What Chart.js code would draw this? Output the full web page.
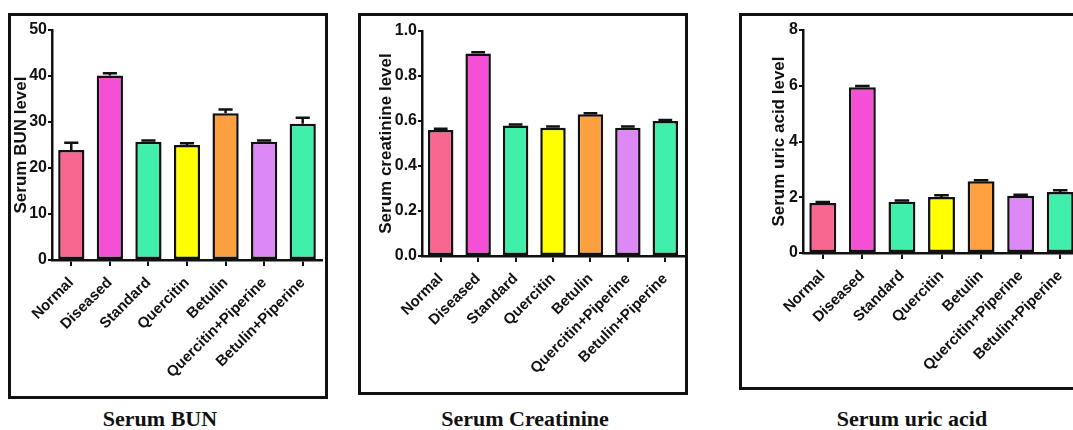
<!DOCTYPE html>
<html>
<head>
<meta charset="utf-8">
<script src="https://cdn.jsdelivr.net/npm/chart.js@4.4.0/dist/chart.umd.min.js"></script>
<style>
html, body { margin: 0; padding: 0; background: #fff; width: 1073px; height: 430px; overflow: hidden; }
.box { position: absolute; border: 3px solid #111; box-sizing: border-box; }
canvas { position: absolute; top: 0; }
.cap { position: absolute; top: 406px; font: bold 22px "Liberation Serif", "Times New Roman", serif; color: #111; white-space: nowrap; transform: translateX(-50%); }
</style>
</head>
<body>
<div class="box" style="left:8px;top:13px;width:320px;height:386px"></div>
<div class="box" style="left:358px;top:13px;width:330px;height:382px"></div>
<div class="box" style="left:739px;top:13px;width:360px;height:377px"></div>

<canvas id="bun" width="330" height="400" style="left:0px"></canvas>
<canvas id="creat" width="335" height="400" style="left:355px"></canvas>
<canvas id="uric" width="350" height="400" style="left:735px"></canvas>

<div class="cap" style="left:160px">Serum BUN</div>
<div class="cap" style="left:525px">Serum Creatinine</div>
<div class="cap" style="left:912px">Serum uric acid</div>

<script>
const groups = ["Normal", "Diseased", "Standard", "Quercitin", "Betulin", "Quercitin+Piperine", "Betulin+Piperine"];
const barColors = ["#f7668f", "#f54fd6", "#40efaa", "#ffff00", "#ffa040", "#dc88f5", "#40efaa"];

const bunMeans = [23.9, 40.1, 25.7, 25.0, 31.9, 25.7, 29.6];
const bunSem = [1.6, 0.5, 0.3, 0.4, 0.8, 0.3, 1.3];
const bunTicks = [0, 10, 20, 30, 40, 50];

const creatMeans = [0.56, 0.90, 0.58, 0.57, 0.63, 0.57, 0.60];
const creatSem = [0.006, 0.006, 0.004, 0.006, 0.004, 0.006, 0.004];
const creatTicks = [0, 0.2, 0.4, 0.6, 0.8, 1.0];

const uricMeans = [1.79, 5.95, 1.84, 2.01, 2.57, 2.05, 2.19];
const uricSem = [0.04, 0.04, 0.04, 0.06, 0.04, 0.04, 0.06];
const uricTicks = [0, 2, 4, 6, 8];

// SEM bars (upper half only), drawn on top of the bars
const errorBars = {
    id: "errorBars",
    afterDatasetsDraw(chart, args, opts) {
        const ctx = chart.ctx;
        const y = chart.scales.y;
        const meta = chart.getDatasetMeta(0);
        ctx.save();
        ctx.strokeStyle = "#111";
        ctx.lineWidth = 2.5;
        meta.data.forEach((bar, i) => {
            const base = y.getPixelForValue(opts.means[i]);
            const top = y.getPixelForValue(opts.means[i] + opts.sem[i]);
            const half = bar.width * 0.27;
            ctx.beginPath();
            ctx.moveTo(bar.x, base);
            ctx.lineTo(bar.x, top);
            ctx.moveTo(bar.x - half, top);
            ctx.lineTo(bar.x + half, top);
            ctx.stroke();
        });
        ctx.restore();
    }
};

function makeChart(id, means, sem, ticks, decimals, yTitle, area) {
    const canvas = document.getElementById(id);
    const W = canvas.width, H = canvas.height;
    return new Chart(canvas.getContext("2d"), {
        type: "bar",
        data: {
            labels: groups,
            datasets: [{
                data: means,
                backgroundColor: barColors,
                borderColor: "#111",
                borderWidth: 2.5,
                borderSkipped: false,
                barPercentage: 0.68,
                categoryPercentage: 1
            }]
        },
        plugins: [errorBars],
        options: {
            responsive: false,
            animation: false,
            devicePixelRatio: 1,
            layout: { padding: { top: area.top, right: W - area.right, left: 0, bottom: 0 } },
            plugins: {
                legend: { display: false },
                tooltip: { enabled: false },
                errorBars: { means, sem }
            },
            scales: {
                x: {
                    offset: true,
                    grid: { display: true, drawOnChartArea: false, offset: false, tickLength: 6, color: "#111", lineWidth: 2 },
                    border: { display: true, color: "#111", width: 2.5 },
                    ticks: {
                        color: "#111", minRotation: 45, maxRotation: 45, padding: 8, autoSkip: false,
                        font: { family: "Liberation Sans, Arial, sans-serif", size: 15, weight: "bold" }
                    },
                    afterFit: s => { s.height = H - area.bottom; }
                },
                y: {
                    min: 0,
                    max: ticks[ticks.length - 1],
                    grid: { display: true, drawOnChartArea: false, tickLength: 4, color: "#111", lineWidth: 2 },
                    border: { display: true, color: "#111", width: 2.5 },
                    afterBuildTicks: s => { s.ticks = ticks.map(v => ({ value: v })); },
                    ticks: {
                        color: "#111", padding: 1,
                        callback: v => v.toFixed(decimals),
                        font: { family: "Liberation Sans Narrow, Arial Narrow, sans-serif", size: 16, weight: "bold" }
                    },
                    title: {
                        display: true, text: yTitle, color: "#111",
                        padding: { top: area.titlePad, bottom: 0 },
                        font: { family: "Liberation Sans, Arial, sans-serif", size: 17, weight: "bold" }
                    },
                    afterFit: s => { s.width = area.left; }
                }
            }
        }
    });
}

makeChart("bun", bunMeans, bunSem, bunTicks, 0, "Serum BUN level",
    { left: 52, top: 30, right: 322, bottom: 260, titlePad: 11 });
makeChart("creat", creatMeans, creatSem, creatTicks, 1, "Serum creatinine level",
    { left: 67, top: 31, right: 329, bottom: 256, titlePad: 21 });
makeChart("uric", uricMeans, uricSem, uricTicks, 0, "Serum uric acid level",
    { left: 68, top: 30, right: 345, bottom: 253, titlePad: 34 });
</script>
</body>
</html>
